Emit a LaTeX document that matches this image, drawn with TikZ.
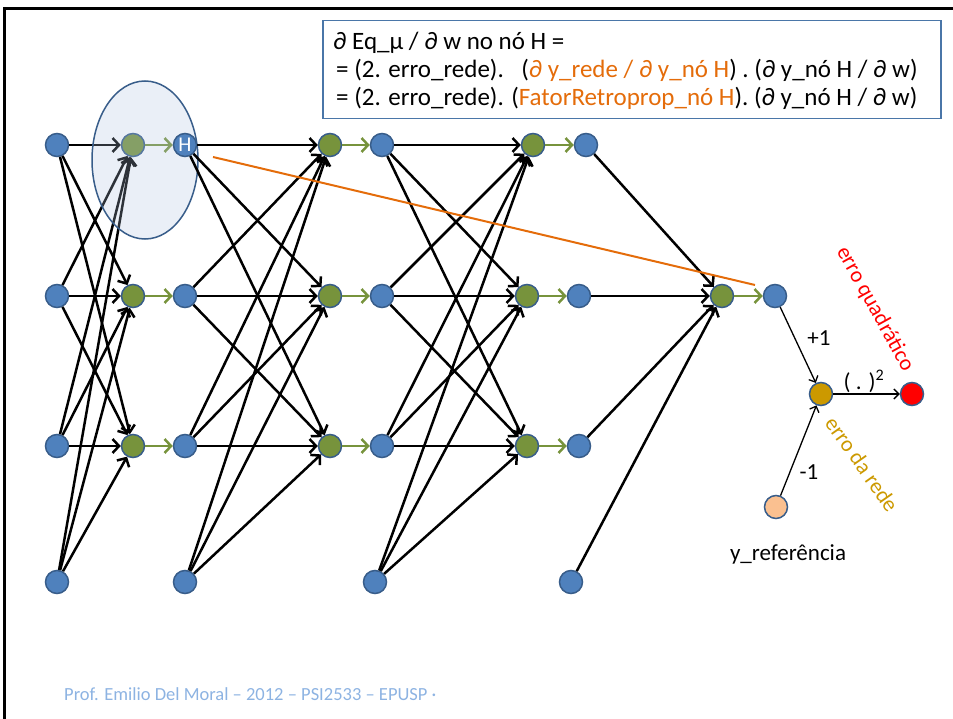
\documentclass[tikz,border=0pt]{standalone}
\usepackage{fontspec}
\setmainfont{Carlito}
\usetikzlibrary{arrows.meta}
\pgfdeclarelayer{ell}
\pgfdeclarelayer{front}
\pgfsetlayers{main,ell,front}
\definecolor{nblue}{RGB}{79,129,189}
\definecolor{nbord}{RGB}{56,93,138}
\definecolor{ngreen}{RGB}{119,147,60}
\definecolor{ngold}{RGB}{204,153,0}
\definecolor{npeach}{RGB}{250,192,144}
\definecolor{norange}{RGB}{228,108,10}
\definecolor{footblue}{RGB}{141,179,226}
\definecolor{ellfill}{RGB}{175,195,223}
\definecolor{boxblue}{RGB}{74,118,168}
\begin{document}
\begin{tikzpicture}[x=1pt,y=-1pt,
  neu/.style={circle,draw=nbord,line width=1.5pt,minimum size=23pt,inner sep=0pt},
  bn/.style={neu,fill=nblue},
  gn/.style={neu,fill=ngreen},
  w/.style={line width=2.5pt,-{Straight Barb[length=6.5pt,width=14pt]}},
  ga/.style={w,draw=ngreen},
  thinarr/.style={line width=1.3pt,-{Straight Barb[length=5pt,width=10pt]}},
  lbl/.style={font=\fontsize{23}{26}\selectfont,inner sep=0pt},
  boxtxt/.style={font=\fontsize{25}{28}\selectfont,anchor=base west,inner sep=0pt},
  rot/.style={font=\fontsize{22}{25}\selectfont},
]
\useasboundingbox (0,0) rectangle (953,719);
% frame
\draw[line width=3pt] (4.5,719) -- (4.5,9) -- (953,9);
% nodes
\node[bn] (i1) at (57,145) {};
\node[bn] (i2) at (57,296) {};
\node[bn] (i3) at (57,446) {};
\node[bn] (i4) at (57,582) {};
\node[gn] (s11) at (133,145) {};
\node[gn] (s12) at (133,296) {};
\node[gn] (s13) at (133,446) {};
\node[bn] (h2) at (185,296) {};
\node[bn] (h3) at (185,446) {};
\node[bn] (b1) at (185,582) {};
\node[gn] (s21) at (330,145) {};
\node[gn] (s22) at (330,296) {};
\node[gn] (s23) at (330,446) {};
\node[bn] (o21) at (382,145) {};
\node[bn] (o22) at (382,296) {};
\node[bn] (o23) at (382,446) {};
\node[bn] (b2) at (375,582) {};
\node[gn] (s31) at (533,145) {};
\node[gn] (s32) at (527,296) {};
\node[gn] (s33) at (527,446) {};
\node[bn] (o31) at (586,145) {};
\node[bn] (o32) at (579,296) {};
\node[bn] (o33) at (579,446) {};
\node[bn] (b3) at (571,582) {};
\node[gn] (sf) at (722,296) {};
\node[bn] (of) at (775,296) {};
\node[neu,fill=ngold] (err) at (821,394) {};
\node[neu,fill=red] (sq) at (912,394) {};
\node[neu,fill=npeach] (yref) at (776,507) {};
\begin{pgfonlayer}{front}
\node[bn,text=white,font=\fontsize{21}{22}\selectfont] (h1) at (185,145) {H};
\end{pgfonlayer}
% layer 1
\foreach \a in {i1,i2,i3,i4}
  \foreach \b in {s11,s12,s13}
    \draw[w] (\a) -- (\b);
\draw[ga] (s11) -- (h1);
\draw[ga] (s12) -- (h2);
\draw[ga] (s13) -- (h3);
% ellipse
\begin{pgfonlayer}{ell}
\fill[ellfill,fill opacity=0.26] (145,160) ellipse [x radius=53pt, y radius=79pt];
\draw[nbord,line width=1.5pt] (145,160) ellipse [x radius=53pt, y radius=79pt];
\end{pgfonlayer}
% layer 2
\begin{pgfonlayer}{front}
\foreach \b in {s21,s22,s23}
  \draw[w] (h1) -- (\b);
\end{pgfonlayer}
\foreach \a in {h2,h3,b1}
  \foreach \b in {s21,s22,s23}
    \draw[w] (\a) -- (\b);
\draw[ga] (s21) -- (o21);
\draw[ga] (s22) -- (o22);
\draw[ga] (s23) -- (o23);
% layer 3
\foreach \a in {o21,o22,o23,b2}
  \foreach \b in {s31,s32,s33}
    \draw[w] (\a) -- (\b);
\draw[ga] (s31) -- (o31);
\draw[ga] (s32) -- (o32);
\draw[ga] (s33) -- (o33);
% final
\foreach \a in {o31,o32,o33,b3}
  \draw[w] (\a) -- (sf);
\draw[ga] (sf) -- (of);
% error part
\draw[thinarr] (of) -- (err);
\draw[thinarr] (yref) -- (err);
\draw[thinarr] (err) -- (sq);
\node[lbl] (p1) at (819,338) {+1};
\node[lbl] (m1) at (809,472) {-1};
\node[lbl] (pw) at (864,381) {( . )\textsuperscript{2}};
\node[lbl] (yl) at (788,554) {y\_referência};
\node[rot,text=red,rotate=-61] (eq) at (875,309) {erro quadrático};
\node[rot,text=ngold,rotate=-55] (er) at (862,464) {erro da rede};
% orange line
\coordinate (oa) at (213,157);
\coordinate (ob) at (755,285);
\draw[norange,line width=2pt] (oa) -- (ob);
% formula box
\node[draw=boxblue,line width=1.5pt,minimum width=618pt,minimum height=98pt,anchor=north west,inner sep=0pt] (box) at (322,20) {};
\node[boxtxt] (t1) at (333,50) {∂ Eq\_μ / ∂ w no nó H =};
\node[boxtxt] (t2) at (336,78) {= (2. erro\_rede).\hspace{0.7em}(\textcolor{norange}{∂ y\_rede / ∂ y\_nó H}) . (∂ y\_nó H / ∂ w)};
\node[boxtxt] (t3) at (336,106) {= (2. erro\_rede). (\textcolor{norange}{FatorRetroprop\_nó H}). (∂ y\_nó H / ∂ w)};
% footer
\node[anchor=base west,inner sep=0pt,text=footblue,font=\fontsize{18.5}{20}\selectfont] (foot) at (64,700) {Prof. Emilio Del Moral – 2012 – PSI2533 – EPUSP ·};
\end{tikzpicture}
\end{document}
